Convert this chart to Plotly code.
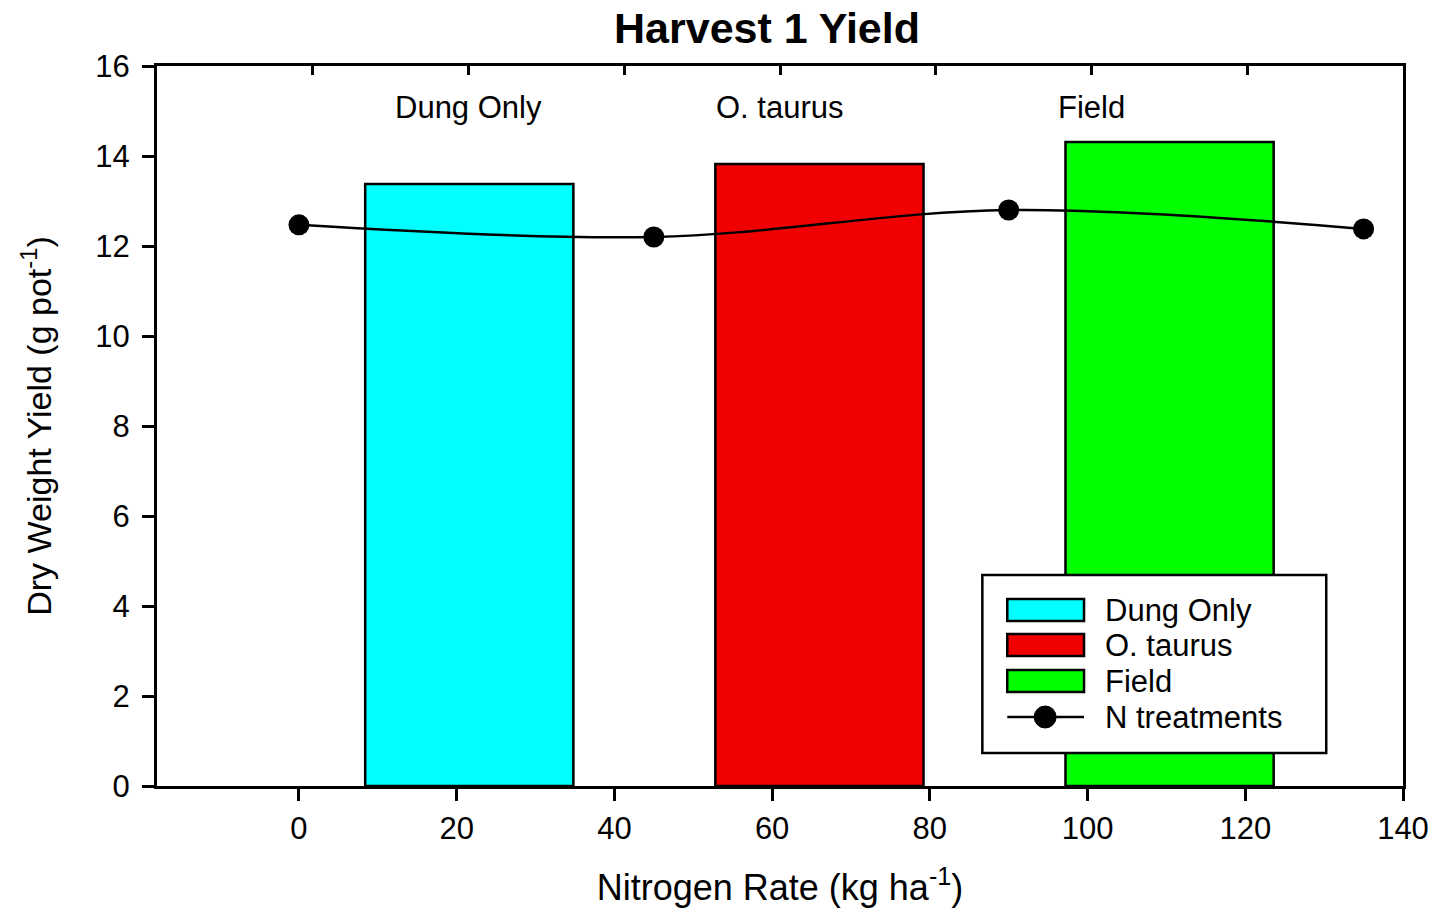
import plotly.graph_objects as go

# ---- data ----
treatments = ["Dung Only", "O. taurus", "Field"]
treatment_colors = ["#00FFFF", "#F00000", "#00FF00"]
bar_x = [21.6, 66.0, 110.4]          # bar centres on the nitrogen-rate axis
bar_width = 26.4
bar_yield = [13.38, 13.82, 14.31]    # dry weight yield, g pot^-1

n_rate = [0, 45, 90, 135]            # kg ha^-1
n_yield = [12.47, 12.20, 12.80, 12.38]

x_ticks = [0, 20, 40, 60, 80, 100, 120, 140]
y_ticks = [0, 2, 4, 6, 8, 10, 12, 14, 16]
top_ticks = [1, 2, 3, 4, 5, 6, 7]
top_label_pos = [2, 4, 6]

FONT = "Arial, Liberation Sans, sans-serif"
W, H = 1441, 914
L, R, T, B = 157, 1407, 66, 786   # plot-area edges in pixels


def px(xp):
    return (xp - L) / (R - L)


def py(yp):
    return (B - yp) / (B - T)


fig = go.Figure()

fig.add_trace(go.Bar(
    x=bar_x, y=bar_yield, width=bar_width,
    marker=dict(color=treatment_colors, line=dict(color="black", width=2.5)),
    showlegend=False, xaxis="x", yaxis="y",
))

fig.add_trace(go.Scatter(
    x=n_rate, y=n_yield, mode="lines+markers",
    line=dict(color="black", width=2.5, shape="spline", smoothing=1),
    marker=dict(color="black", size=21),
    showlegend=False, xaxis="x", yaxis="y",
))

axis_line = dict(showline=True, linecolor="black", linewidth=3,
                 showgrid=False, zeroline=False)

fig.update_layout(
    width=W, height=H,
    margin=dict(l=L, r=W - R, t=T, b=H - B, pad=0),
    paper_bgcolor="white", plot_bgcolor="white",
    font=dict(family=FONT, color="black"),
    title=dict(text="<b>Harvest 1 Yield</b>", font=dict(size=43, family=FONT),
               x=767 / W, xanchor="center", y=1 - 28 / H, yanchor="middle",
               xref="container", yref="container"),
    xaxis=dict(range=[-18, 140], tickvals=x_ticks, ticks="outside",
               ticklen=12, tickwidth=2.5, tickcolor="black",
               tickfont=dict(size=31, family=FONT), ticklabelstandoff=1,
               title=dict(text="Nitrogen Rate (kg ha<sup>-1</sup>)",
                          font=dict(size=36, family=FONT), standoff=30),
               **axis_line),
    xaxis2=dict(range=[0, 8], overlaying="x", side="top", anchor="y",
                tickvals=top_ticks, ticks="inside", ticklen=9, tickwidth=2.5,
                tickcolor="black", showticklabels=False, **axis_line),
    yaxis=dict(range=[0, 16], tickvals=y_ticks, ticks="outside",
               ticklen=12, tickwidth=2.5, tickcolor="black", mirror=True,
               tickfont=dict(size=31, family=FONT), ticklabelstandoff=6,
               title=dict(text="Dry Weight Yield (g pot<sup>-1</sup>)",
                          font=dict(size=34, family=FONT), standoff=34),
               **axis_line),
)

# treatment labels along the top axis
for name, pos in zip(treatments, top_label_pos):
    fig.add_annotation(x=pos, xref="x2", y=py(107), yref="paper",
                       text=name, showarrow=False,
                       font=dict(size=31, family=FONT),
                       xanchor="center", yanchor="middle")

# legend box
shapes = [dict(type="rect", xref="paper", yref="paper",
               x0=px(985), x1=px(1330), y0=py(753), y1=py(575),
               line=dict(color="black", width=2.5), fillcolor="white",
               layer="above")]
rows_y = [610, 645, 681]
for name, col, ry in zip(treatments, treatment_colors, rows_y):
    shapes.append(dict(type="rect", xref="paper", yref="paper",
                       x0=px(1010), x1=px(1087), y0=py(ry + 11), y1=py(ry - 11),
                       line=dict(color="black", width=2.5), fillcolor=col,
                       layer="above"))
    fig.add_annotation(x=px(1106), xref="paper", y=py(ry), yref="paper",
                       text=name, showarrow=False, xanchor="left",
                       yanchor="middle", font=dict(size=31, family=FONT))
ly = 717
shapes.append(dict(type="line", xref="paper", yref="paper",
                   x0=px(1010), x1=px(1087), y0=py(ly), y1=py(ly),
                   line=dict(color="black", width=2.5), layer="above"))
shapes.append(dict(type="circle", xref="paper", yref="paper",
                   x0=px(1037), x1=px(1059), y0=py(ly + 11), y1=py(ly - 11),
                   line=dict(color="black", width=1), fillcolor="black",
                   layer="above"))
fig.add_annotation(x=px(1106), xref="paper", y=py(ly), yref="paper",
                   text="N treatments", showarrow=False, xanchor="left",
                   yanchor="middle", font=dict(size=31, family=FONT))
fig.update_layout(shapes=shapes)

fig.write_html("out.html")
